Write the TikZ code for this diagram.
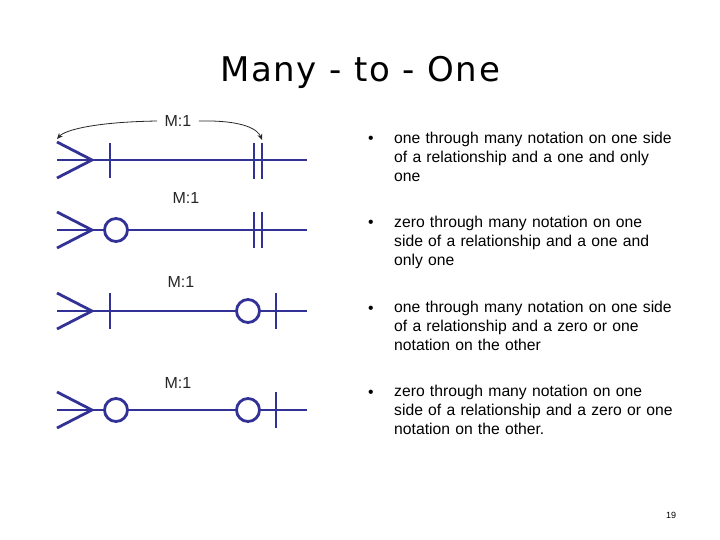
\documentclass[tikz,border=0pt]{standalone}
\usepackage{fontspec}
\setmainfont{Liberation Sans}
\newfontfamily\titlefont[LetterSpace=5]{DejaVu Sans}
\usetikzlibrary{arrows.meta}
\definecolor{erblue}{RGB}{50,50,150}
\tikzset{
  erline/.style={draw=erblue, line width=2.8pt},
  ercirc/.style={circle, draw=erblue, line width=2.8pt, fill=white, minimum size=23pt, inner sep=0pt},
  lbl/.style={font=\fontsize{16}{18}\selectfont, text=black!85},
  bul/.style={font=\fontsize{15.7}{19}\selectfont, anchor=north west, align=left, text width=320pt, inner sep=0pt},
  dot/.style={font=\fontsize{15.7}{19}\selectfont, anchor=base west, inner sep=0pt}
}
\begin{document}
\begin{tikzpicture}[x=1pt,y=-1pt]
\useasboundingbox (0,0) rectangle (720,540);
\node[font=\titlefont\fontsize{34}{38}\selectfont, anchor=base] (title) at (360,82) {Many - to - One};

% Row 1
\draw[erline] (57,160) -- (307,160);
\draw[erline] (57,142) -- (92,160) -- (57,178);
\draw[erline] (110,143) -- (110,178);
\draw[erline] (254,143) -- (254,179);
\draw[erline] (262,143) -- (262,179);
\node[lbl] (m0) at (178,121) {M:1};
\coordinate (arcL) at (57,139);
\coordinate (arcR) at (262,140);
\draw[-{Stealth[length=6pt,width=5pt]}, black!85, line width=0.8pt] (m0.west) ++(-4,0) .. controls (95,122) and (65,130) .. (arcL);
\draw[-{Stealth[length=6pt,width=5pt]}, black!85, line width=0.8pt] (m0.east) ++(4,0) .. controls (245,120) and (258,130) .. (arcR);

% Row 2
\node[lbl] (m2) at (186,198) {M:1};
\draw[erline] (57,230) -- (307,230);
\draw[erline] (57,212) -- (92,230) -- (57,248);
\node[ercirc] (c2) at (116,230) {};
\draw[erline] (254,212) -- (254,248);
\draw[erline] (262,212) -- (262,248);

% Row 3
\node[lbl] (m3) at (181,282) {M:1};
\draw[erline] (57,311) -- (307,311);
\draw[erline] (57,293) -- (92,311) -- (57,329);
\draw[erline] (110,293) -- (110,329);
\node[ercirc] (c3) at (248,311) {};
\draw[erline] (276,293) -- (276,329);

% Row 4
\node[lbl] (m4) at (178,383) {M:1};
\draw[erline] (57,410) -- (307,410);
\draw[erline] (57,392) -- (92,410) -- (57,428);
\node[ercirc] (c4a) at (116,410) {};
\node[ercirc] (c4b) at (248,410) {};
\draw[erline] (276,392) -- (276,428);

% Bullets
\node[dot] (d1) at (368,144) {•};
\node[bul] (t1) at (394,132) {one through many notation on one side\\of a relationship and a one and only\\one};
\node[dot] (d2) at (368,228) {•};
\node[bul] (t2) at (394,216) {zero through many notation on one\\side of a relationship and a one and\\only one};
\node[dot] (d3) at (368,313) {•};
\node[bul] (t3) at (394,301) {one through many notation on one side\\of a relationship and a zero or one\\notation on the other};
\node[dot] (d4) at (368,397) {•};
\node[bul] (t4) at (394,385) {zero through many notation on one\\side of a relationship and a zero or one\\notation on the other.};

\node[font=\fontsize{9}{10}\selectfont] (pg) at (671,515) {19};
\end{tikzpicture}
\end{document}
